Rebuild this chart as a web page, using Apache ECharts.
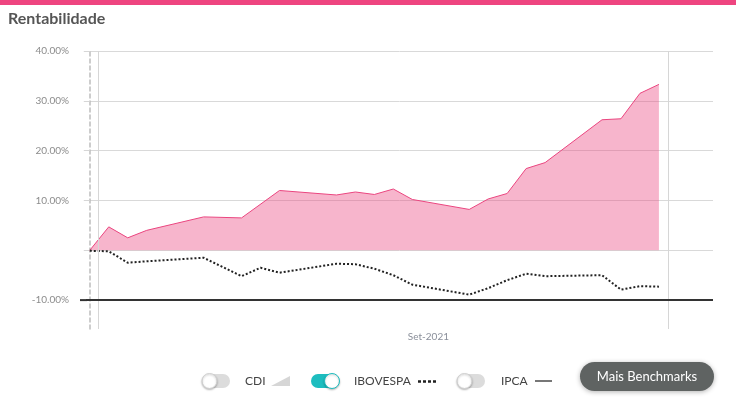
<!DOCTYPE html>
<html>
<head>
<meta charset="utf-8">
<script src="https://cdn.jsdelivr.net/npm/echarts@6/dist/echarts.min.js"></script>
<style>
    html, body { margin: 0; padding: 0; background: #fff; }
    #chart { width: 736px; height: 397px; }
</style>
</head>
<body>
<div id="chart"></div>
<script>
// períodos (índice) e rentabilidade acumulada em %
var fundoIdx = [0, 1, 2, 3, 6, 8, 10, 13, 14, 15, 16, 17, 20, 21, 22, 23, 24, 27, 28, 29, 30];
var fundoVal = [0, 4.7, 2.5, 4.0, 6.7, 6.5, 12.0, 11.1, 11.7, 11.2, 12.3, 10.2, 8.2, 10.3, 11.4, 16.4, 17.6, 26.2, 26.4, 31.5, 33.3];

var ibovIdx = [0, 1, 2, 3, 6, 8, 9, 10, 13, 14, 15, 16, 17, 20, 21, 22, 23, 24, 27, 28, 29, 30];
var ibovVal = [-0.1, -0.2, -2.5, -2.2, -1.5, -5.2, -3.5, -4.5, -2.7, -2.8, -3.7, -5.0, -6.9, -8.9, -7.6, -6.0, -4.7, -5.2, -5.0, -7.9, -7.2, -7.3];

var xLabelPos = [17.85];
var xLabels = ['Set-2021'];
var xMarcas = [0.42, 30.47];
var yTicks = [-10, 0, 10, 20, 30, 40];
var linhaBase = -10;

var fundoData = [];
for (var i = 0; i < fundoIdx.length; i++) {
    fundoData.push([fundoIdx[i], fundoVal[i]]);
}
var ibovData = [];
for (var j = 0; j < ibovIdx.length; j++) {
    ibovData.push([ibovIdx[j], ibovVal[j]]);
}

var chart = echarts.init(document.getElementById('chart'));

function toggle(x, on) {
    return [
        {
            type: 'rect', silent: true,
            shape: { x: x, y: 374, width: 28, height: 14, r: 7 },
            style: { fill: on ? '#1dbdbf' : '#dcdcdc' }
        },
        {
            type: 'circle', silent: true,
            shape: { cx: on ? x + 21 : x + 7.5, cy: 381, r: 7.5 },
            style: { fill: '#fff', stroke: on ? '#1dbdbf' : '#cfcfcf', lineWidth: 1,
                     shadowBlur: 2, shadowColor: 'rgba(0,0,0,0.25)', shadowOffsetY: 1 }
        }
    ];
}

var legendTxt = { font: '12px Lato', fill: '#444', verticalAlign: 'middle' };

var graphics = [
    { type: 'rect', silent: true, shape: { x: 0, y: 0, width: 736, height: 5 }, style: { fill: '#ee4580' } }
]
    .concat(toggle(202, false))
    .concat([
        { type: 'text', silent: true, style: Object.assign({ x: 245, y: 381, text: 'CDI' }, legendTxt) },
        {
            type: 'polygon', silent: true,
            shape: { points: [[271, 386], [290, 376], [290, 386]] },
            style: { fill: '#d6d6d6' }
        }
    ])
    .concat(toggle(311, true))
    .concat([
        { type: 'text', silent: true, style: Object.assign({ x: 354, y: 381, text: 'IBOVESPA' }, legendTxt) },
        {
            type: 'line', silent: true,
            shape: { x1: 418, y1: 381.5, x2: 437, y2: 381.5 },
            style: { stroke: '#222', lineWidth: 2.5, lineDash: [3, 2] }
        }
    ])
    .concat(toggle(457, false))
    .concat([
        { type: 'text', silent: true, style: Object.assign({ x: 501, y: 381, text: 'IPCA' }, legendTxt) },
        {
            type: 'line', silent: true,
            shape: { x1: 535, y1: 381, x2: 552, y2: 381 },
            style: { stroke: '#777', lineWidth: 2 }
        },
        {
            type: 'rect', silent: true,
            shape: { x: 580, y: 362, width: 134, height: 29, r: 14.5 },
            style: { fill: '#5f6362', shadowBlur: 5, shadowColor: 'rgba(0,0,0,0.3)', shadowOffsetY: 1 }
        },
        {
            type: 'text', silent: true,
            style: { x: 647, y: 377, text: 'Mais Benchmarks', font: '13px Lato', fill: '#fff',
                     align: 'center', verticalAlign: 'middle' }
        }
    ]);

var option = {
    animation: false,
    title: {
        text: 'Rentabilidade',
        left: 8,
        top: 11,
        padding: 0,
        textStyle: { fontFamily: 'Lato', fontSize: 16, fontWeight: 'bold', color: '#555' }
    },
    grid: { left: 86, right: 23, top: 51, bottom: 68 },
    xAxis: {
        type: 'value',
        min: -0.2,
        max: 32.85,
        axisLine: { show: false },
        axisTick: { show: false },
        splitLine: { show: false },
        axisLabel: {
            customValues: xLabelPos,
            margin: 3,
            color: '#8a8f9a',
            fontFamily: 'Lato',
            fontSize: 10,
            formatter: function (v) {
                var k = xLabelPos.indexOf(v);
                return k >= 0 ? xLabels[k] : '';
            }
        }
    },
    yAxis: {
        type: 'value',
        min: -15.8,
        max: 40,
        axisLine: { show: true, lineStyle: { color: '#bdbdbd', width: 1.5, type: [4, 3] } },
        axisTick: { show: true, customValues: yTicks, length: 6, lineStyle: { color: '#d6d6d6' } },
        splitLine: { show: true, showMinLine: false, lineStyle: { color: '#d9d9d9' } },
        axisLabel: {
            customValues: yTicks,
            margin: 17,
            color: '#8c8c8c',
            fontFamily: 'Lato',
            fontSize: 10,
            formatter: function (v) {
                return v === 0 ? '' : v.toFixed(2) + '%';
            }
        }
    },
    series: [
        {
            name: 'Fundo',
            type: 'line',
            data: fundoData,
            symbol: 'none',
            lineStyle: { color: '#ea457f', width: 1 },
            areaStyle: { color: '#ea457f', opacity: 0.4 },
            z: 3
        },
        {
            name: 'IBOVESPA',
            type: 'line',
            data: ibovData,
            symbol: 'none',
            lineStyle: { color: '#222', width: 2, type: [2, 2] },
            z: 4,
            markLine: {
                silent: true,
                symbol: 'none',
                label: { show: false },
                data: [
                    { xAxis: xMarcas[0], lineStyle: { color: '#d6d6d6', width: 1, type: 'solid' } },
                    { xAxis: xMarcas[1], lineStyle: { color: '#d6d6d6', width: 1, type: 'solid' } },
                    { yAxis: linhaBase, lineStyle: { color: '#333', width: 2, type: 'solid' } }
                ]
            }
        }
    ],
    graphic: graphics
};

chart.setOption(option);

// traço preto de -10% também na região dos ticks, posicionado pela escala
var pBase = chart.convertToPixel({ yAxisIndex: 0 }, linhaBase);
chart.setOption({
    graphic: graphics.concat([{
        type: 'line', silent: true, z: 10,
        shape: { x1: 80, y1: pBase, x2: 87, y2: pBase },
        style: { stroke: '#333', lineWidth: 2 }
    }])
});
</script>
</body>
</html>
